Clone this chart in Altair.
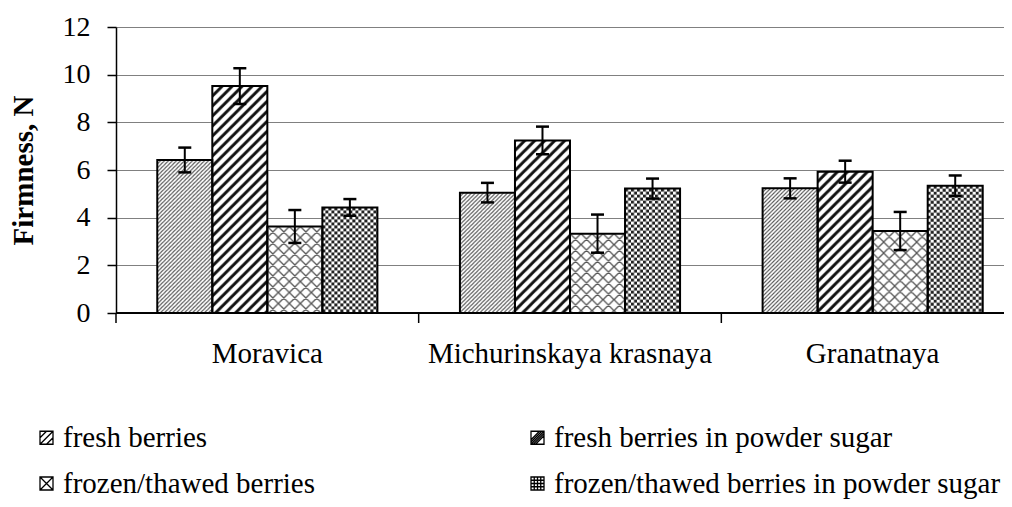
import altair as alt
import pandas as pd
from urllib.parse import quote

# ---------------- data ----------------
varieties = ["Moravica", "Michurinskaya krasnaya", "Granatnaya"]
treatments = [
    "fresh berries",
    "fresh berries in powder sugar",
    "frozen/thawed berries",
    "frozen/thawed berries in powder sugar",
]
fresh = [6.42, 5.05, 5.23]
fresh_err = [0.52, 0.41, 0.42]
fresh_sugar = [9.52, 7.24, 5.93]
fresh_sugar_err = [0.75, 0.58, 0.46]
frozen = [3.63, 3.33, 3.44]
frozen_err = [0.69, 0.80, 0.80]
frozen_sugar = [4.43, 5.22, 5.34]
frozen_sugar_err = [0.35, 0.42, 0.43]
y_ticks = [0, 2, 4, 6, 8, 10, 12]

series = [fresh, fresh_sugar, frozen, frozen_sugar]
errors = [fresh_err, fresh_sugar_err, frozen_err, frozen_sugar_err]

# ---------------- styles ----------------
FONT = "Liberation Serif"


def pattern_url(inner, size):
    svg = (
        "<svg xmlns='http://www.w3.org/2000/svg' width='100%' height='100%'>"
        f"<defs><pattern id='p' width='{size}' height='{size}' patternUnits='userSpaceOnUse'>"
        f"{inner}</pattern></defs>"
        "<rect width='100%' height='100%' fill='white'/>"
        "<rect width='100%' height='100%' fill='url(#p)'/></svg>"
    )
    return "data:image/svg+xml;charset=utf-8," + quote(svg)


patterns = {
    treatments[0]: pattern_url(
        "<path d='M-1,1 L1,-1 M0,4 L4,0 M3,5 L5,3' stroke='#505050' stroke-width='1.1'/>", 4
    ),
    treatments[1]: pattern_url(
        "<path d='M-2,2 L2,-2 M0,10 L10,0 M8,12 L12,8' stroke='#111' stroke-width='3'/>", 10
    ),
    treatments[2]: pattern_url(
        "<path d='M-1,1 L1,-1 M0,11 L11,0 M10,12 L12,10 M0,0 L11,11 M-1,10 L1,12 M10,-1 L12,1' "
        "stroke='#555' stroke-width='1.3'/>",
        11,
    ),
    treatments[3]: pattern_url(
        "<rect width='3' height='3' fill='#222'/><rect x='3' y='3' width='3' height='3' fill='#222'/>", 6
    ),
}

legend_shapes = {
    treatments[0]: "M-1,-1H1V1H-1Z M-1,0L0,-1 M-1,1L1,-1 M0,1L1,0",
    treatments[1]: "M-1,-1H1V1H-1Z M-1,0.3L0.3,-1 M-1,1L1,-1 M-0.3,1L1,-0.3 M-1,0.65L0.65,-1 M-0.65,1L1,-0.65",
    treatments[2]: "M-1,-1H1V1H-1Z M-1,-1L1,1 M-1,1L1,-1",
    treatments[3]: "M-1,-1H1V1H-1Z M-1,-0.5H1 M-1,0H1 M-1,0.5H1 M-0.5,-1V1 M0,-1V1 M0.5,-1V1",
}
# legend fills column by column: column 1 = fresh / frozen, column 2 = the sugar variants
legend_order = [treatments[0], treatments[2], treatments[1], treatments[3]]

rows = []
for t, vals, errs in zip(treatments, series, errors):
    for v, val, e in zip(varieties, vals, errs):
        rows.append(
            {
                "variety": v,
                "treatment": t,
                "value": val,
                "lo": val - e,
                "hi": val + e,
                "img": patterns[t],
            }
        )
df = pd.DataFrame(rows)
cats = pd.DataFrame({"variety": varieties})

TITLE = "Firmness, N"

x_main = alt.X(
    "variety:N",
    sort=varieties,
    scale=alt.Scale(range=[0, 908], paddingInner=0, paddingOuter=0),
    axis=alt.Axis(
        title=None,
        labelAngle=0,
        ticks=False,
        domain=False,
        grid=False,
        labelFont=FONT,
        labelFontSize=29,
        labelColor="black",
        labelPadding=26,
        labelLimit=600,
    ),
)
x_plain = alt.X("variety:N", sort=varieties, title=None)
xoff = alt.XOffset(
    "treatment:N", sort=treatments, scale=alt.Scale(paddingInner=0, paddingOuter=0.75)
)
y_main = alt.Y(
    "value:Q",
    scale=alt.Scale(domain=[0, 12], nice=False),
    title=TITLE,
    axis=alt.Axis(
        values=y_ticks,
        grid=True,
        gridColor="#808080",
        gridWidth=1,
        domainColor="black",
        domainWidth=1.5,
        tickColor="black",
        tickWidth=1.5,
        tickSize=9,
        labelFont=FONT,
        labelFontSize=28,
        labelColor="black",
        labelPadding=17,
        titleFont=FONT,
        titleFontSize=29,
        titleFontWeight="bold",
        titleColor="black",
        titlePadding=24,
    ),
)

images = (
    alt.Chart(df)
    .mark_image(aspect=False)
    .encode(x=x_main, xOffset=xoff, y=y_main, y2=alt.datum(0), url="img:N")
)

outlines = (
    alt.Chart(df)
    .mark_bar(fill="transparent", stroke="black", strokeWidth=2)
    .encode(x=x_plain, xOffset=xoff, y=alt.Y("value:Q", title=TITLE))
)

err_rule = (
    alt.Chart(df)
    .mark_rule(color="black", strokeWidth=2)
    .encode(x=x_plain, xOffset=xoff, y=alt.Y("lo:Q", title=TITLE), y2="hi:Q")
)
cap_lo = (
    alt.Chart(df)
    .mark_tick(color="black", size=13, thickness=2.5, opacity=1)
    .encode(x=x_plain, xOffset=xoff, y=alt.Y("lo:Q", title=TITLE))
)
cap_hi = (
    alt.Chart(df)
    .mark_tick(color="black", size=13, thickness=2.5, opacity=1)
    .encode(x=x_plain, xOffset=xoff, y=alt.Y("hi:Q", title=TITLE))
)

base_line = (
    alt.Chart(cats)
    .mark_rule(color="black", strokeWidth=1.5)
    .encode(y=alt.datum(0))
)
band_ticks = (
    alt.Chart(cats)
    .mark_rule(color="black", strokeWidth=1.5)
    .encode(
        x=alt.X("variety:N", sort=varieties, bandPosition=0, title=None),
        y=alt.value(286),
        y2=alt.value(296),
    )
)

legend_layer = (
    alt.Chart(df)
    .mark_point(filled=False, opacity=0, color="black")
    .encode(
        x=x_plain,
        xOffset=xoff,
        y=alt.Y("value:Q", title=TITLE),
        shape=alt.Shape(
            "treatment:N",
            scale=alt.Scale(
                domain=legend_order, range=[legend_shapes[t] for t in legend_order]
            ),
            legend=alt.Legend(
                title=None,
                orient="none",
                legendX=-84,
                legendY=396,
                columns=2,
                columnPadding=207,
                rowPadding=16,
                symbolSize=169,
                symbolStrokeColor="black",
                symbolStrokeWidth=1.3,
                symbolFillColor="white",
                labelFont=FONT,
                labelFontSize=29,
                labelColor="black",
                labelOffset=2,
                labelLimit=800,
            ),
        ),
    )
)

chart = (
    alt.layer(images, outlines, err_rule, cap_lo, cap_hi, base_line, band_ticks, legend_layer)
    .properties(
        width=888,
        height=286,
        autosize=alt.AutoSizeParams(type="none"),
        padding={"left": 108, "top": 19, "right": 0, "bottom": 186},
    )
    .configure_view(stroke=None)
    .configure(font=FONT)
)

chart.save("out.html", embed_options={"renderer": "svg", "actions": False})
